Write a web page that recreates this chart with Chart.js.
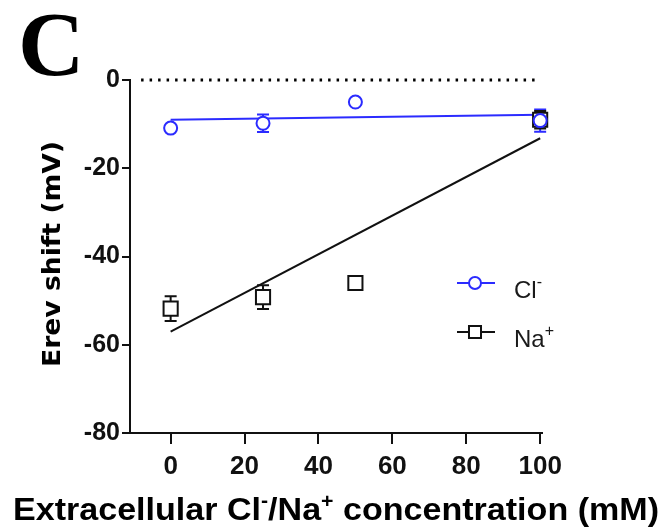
<!DOCTYPE html>
<html><head><meta charset="utf-8">
<script src="https://cdn.jsdelivr.net/npm/chart.js@4/dist/chart.umd.min.js"></script>
<style>html,body{margin:0;padding:0;background:#fff}#wrap{width:665px;height:530px;position:relative}</style>
</head><body><div id="wrap"><canvas id="c" width="665" height="530"></canvas></div>
<script>
// ---- data ----
const concentrations = [0, 25, 50, 100];
const clShift = [-10.9, -9.8, -5.0, -9.2];
const clSem   = [0, 2.0, 0, 2.5];
const naShift = [-51.8, -49.2, -46.0, -9.0];
const naSem   = [2.8, 2.7, 0, 2.0];
const fitX    = [0, 100];
const clFit   = [-9.0, -7.9];
const naFit   = [-57.0, -13.2];
const zeroLineX = [-8, 100];
const xTickValues = [0, 20, 40, 60, 80, 100];
const yTickValues = [0, -20, -40, -60, -80];
const seriesNames = ['Cl', 'Na'];
const seriesCharges = ['-', '+'];

const BLUE = '#2b2bff';
const INK = '#111111';
const SANS = '"DejaVu Sans", "Liberation Sans", sans-serif';
const ARIAL = '"Liberation Sans", Arial, sans-serif';

const pts = (xs, ys) => xs.map((x, i) => ({x, y: ys[i]}));

const errorBars = {
  id: 'errorBars',
  beforeDatasetsDraw(chart) {
    const {ctx, scales: {x, y}} = chart;
    chart.data.datasets.forEach(ds => {
      if (!ds.sem) return;
      ctx.save();
      ctx.strokeStyle = ds.borderColor;
      ctx.lineWidth = 2;
      ds.data.forEach((p, i) => {
        const e = ds.sem[i];
        if (!e) return;
        const px = x.getPixelForValue(p.x);
        const y1 = y.getPixelForValue(p.y + e), y2 = y.getPixelForValue(p.y - e);
        ctx.beginPath();
        ctx.moveTo(px, y1); ctx.lineTo(px, y2);
        ctx.moveTo(px - 6, y1); ctx.lineTo(px + 6, y1);
        ctx.moveTo(px - 6, y2); ctx.lineTo(px + 6, y2);
        ctx.stroke();
      });
      ctx.restore();
    });
  }
};

function drawParts(ctx, parts, x, baseline) {
  let cx = x;
  parts.forEach(p => {
    ctx.font = p.font;
    ctx.fillText(p.t, cx, baseline - (p.rise || 0));
    cx += ctx.measureText(p.t).width;
  });
  return cx - x;
}
function measureParts(ctx, parts) {
  let w = 0;
  parts.forEach(p => { ctx.font = p.font; w += ctx.measureText(p.t).width; });
  return w;
}

const decorations = {
  id: 'decorations',
  afterDraw(chart) {
    const {ctx} = chart;
    ctx.save();
    ctx.fillStyle = '#000';
    ctx.textBaseline = 'alphabetic';
    ctx.textAlign = 'left';

    // panel letter
    ctx.font = 'bold 92px "Liberation Serif", "DejaVu Serif", serif';
    ctx.fillText('C', 18, 75);

    // x axis title with superscripts
    const bf = 'bold 32px ' + ARIAL, sf = 'bold 20px ' + ARIAL;
    const xParts = [
      {t: 'Extracellular Cl', font: bf}, {t: '-', font: sf, rise: 13},
      {t: '/Na', font: bf}, {t: '+', font: sf, rise: 12},
      {t: ' concentration (mM)', font: bf}
    ];
    const w = measureParts(ctx, xParts);
    const sx = 646 / w;
    ctx.save();
    ctx.translate(13, 520);
    ctx.scale(sx, 1);
    drawParts(ctx, xParts, 0, 0);
    ctx.restore();

    // y axis title
    ctx.save();
    ctx.font = 'bold 25px ' + SANS;
    const yt = 'Erev shift (mV)';
    const yw = ctx.measureText(yt).width;
    ctx.translate(60, 254);
    ctx.rotate(-Math.PI / 2);
    ctx.scale(226 / yw, 1);
    ctx.textAlign = 'center';
    ctx.fillText(yt, 0, 0);
    ctx.restore();

    // legend
    const rows = [
      {y: 283, color: BLUE, style: 'circle', r: 6, base: 298},
      {y: 332, color: INK, style: 'rect', r: 8.5, base: 347}
    ];
    rows.forEach((row, i) => {
      ctx.save();
      ctx.strokeStyle = row.color;
      ctx.lineWidth = 2;
      ctx.beginPath(); ctx.moveTo(457, row.y); ctx.lineTo(495, row.y); ctx.stroke();
      ctx.fillStyle = '#fff';
      ctx.beginPath();
      if (row.style === 'circle') ctx.arc(475, row.y, row.r, 0, Math.PI * 2);
      else { const s = row.r * Math.SQRT1_2; ctx.rect(475 - s, row.y - s, 2 * s, 2 * s); }
      ctx.fill(); ctx.stroke();
      ctx.restore();
      ctx.fillStyle = '#1a1a1a';
      const lp = [{t: seriesNames[i], font: '24px ' + ARIAL}, {t: seriesCharges[i], font: '16px ' + ARIAL, rise: 11}];
      drawParts(ctx, lp, 514, row.base);
    });
    ctx.restore();
  }
};

new Chart(document.getElementById('c'), {
  type: 'scatter',
  data: {
    datasets: [
      {label: 'Cl-', data: pts(concentrations, clShift), sem: clSem, showLine: false,
       pointStyle: 'circle', pointRadius: 6.5, pointBorderWidth: 2,
       borderColor: BLUE, backgroundColor: '#fff', clip: false},
      {label: 'Na+', data: pts(concentrations, naShift), sem: naSem, showLine: false,
       pointStyle: 'rect', pointRadius: 10, pointBorderWidth: 2,
       borderColor: INK, backgroundColor: '#fff', clip: false},
      {label: 'Cl fit', type: 'line', data: pts(fitX, clFit), borderColor: BLUE,
       borderWidth: 2, pointRadius: 0, fill: false, clip: false},
      {label: 'Na fit', type: 'line', data: pts(fitX, naFit), borderColor: INK,
       borderWidth: 2, pointRadius: 0, fill: false, clip: false},
      {label: 'zero', type: 'line', data: pts(zeroLineX, [0, 0]), borderColor: '#000',
       borderWidth: 3, borderDash: [2.5, 6], pointRadius: 0, fill: false, clip: false}
    ]
  },
  options: {
    responsive: false,
    animation: false,
    events: [],
    layout: {padding: {top: 80, right: 123, bottom: 0, left: 0}},
    plugins: {legend: {display: false}, tooltip: {enabled: false}, title: {display: false}},
    scales: {
      x: {
        type: 'linear', position: 'bottom', min: -11, max: 100.5,
        afterBuildTicks: s => { s.ticks = xTickValues.map(v => ({value: v})); },
        afterFit: s => { s.height = 97; },
        grid: {drawOnChartArea: false, drawTicks: true, tickLength: 11, color: INK, lineWidth: 2},
        border: {display: true, color: INK, width: 2},
        ticks: {padding: 7, color: '#111', maxRotation: 0, autoSkip: false,
                font: {family: ARIAL, weight: 'bold', size: 26}},
        title: {display: false}
      },
      y: {
        type: 'linear', position: 'left', min: -80, max: 0,
        afterBuildTicks: s => { s.ticks = yTickValues.map(v => ({value: v})); },
        afterFit: s => { s.width = 130; },
        grid: {drawOnChartArea: false, drawTicks: true, tickLength: 8, color: INK, lineWidth: 2},
        border: {display: true, color: INK, width: 2},
        ticks: {padding: 2, color: '#111', autoSkip: false,
                font: {family: ARIAL, weight: 'bold', size: 25}},
        title: {display: false}
      }
    }
  },
  plugins: [errorBars, decorations]
});
</script>
</body></html>
